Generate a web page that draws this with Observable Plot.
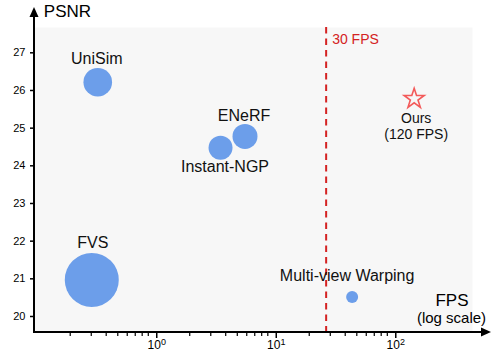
<!DOCTYPE html>
<html>
<head>
<meta charset="utf-8">
<script src="https://cdn.jsdelivr.net/npm/d3@7"></script>
<script src="https://cdn.jsdelivr.net/npm/@observablehq/plot@0.6"></script>
<style>
  html, body { margin: 0; padding: 0; background: #fff; }
  #chart svg { display: block; }
</style>
</head>
<body>
<div id="chart"></div>
<script>
// ---- data ----
const methods = ["UniSim", "FVS", "Instant-NGP", "ENeRF", "Multi-view Warping"];
const fps     = [0.34, 0.303, 3.62, 5.8, 45.7];
const psnr    = [26.22, 20.97, 24.48, 24.78, 20.52];
const bubble  = [205, 730, 144, 156, 36];

const oursName = ["Ours", "(120 FPS)"];
const oursFps  = [151];
const oursPsnr = [25.78];

const fpsThreshold = [27.7];
const thresholdLabel = "30 FPS";

const yTicks = [20, 21, 22, 23, 24, 25, 26, 27];
const xMajorTicks = [1, 10, 100];
const xMajorBase = "10";
const xMajorExponents = ["0", "1", "2"];
const xMinorTicks = [0.2, 0.3, 0.4, 0.5, 0.6, 0.7, 0.8, 0.9,
                     2, 3, 4, 5, 6, 7, 8, 9,
                     20, 30, 40, 50, 60, 70, 80, 90];

const rows = methods.map((m, i) => ({name: m, fps: fps[i], psnr: psnr[i], size: bubble[i]}));
const ours = oursFps.map((f, i) => ({fps: f, psnr: oursPsnr[i], text: oursName.join("\n")}));

const FONT = "'Liberation Sans', Arial, Helvetica, sans-serif";
const BLUE = "#6c9eea";
const RED = "#d42222";

function label(name, dx, dy) {
  return Plot.text(rows.filter(d => d.name === name), {
    x: "fps", y: "psnr", text: "name", dx, dy,
    fontSize: 16, fill: "#111", lineAnchor: "middle", textAnchor: "middle"
  });
}

// axis lines with filled arrow heads, drawn from the frame dimensions
function axisArrows(index, scales, values, dim) {
  const g = d3.create("svg:g");
  const x0 = dim.marginLeft, y0 = dim.height - dim.marginBottom;
  const xEnd = dim.width - 1, yEnd = 7;
  g.append("line").attr("x1", x0).attr("x2", xEnd - 8).attr("y1", y0).attr("y2", y0)
    .attr("stroke", "#000").attr("stroke-width", 2);
  g.append("line").attr("x1", x0).attr("x2", x0).attr("y1", y0 + 1).attr("y2", yEnd + 8)
    .attr("stroke", "#000").attr("stroke-width", 2);
  g.append("path").attr("d", `M${xEnd},${y0}L${xEnd - 10},${y0 - 4.5}L${xEnd - 10},${y0 + 4.5}Z`).attr("fill", "#000");
  g.append("path").attr("d", `M${x0},${yEnd}L${x0 - 4.5},${yEnd + 10}L${x0 + 4.5},${yEnd + 10}Z`).attr("fill", "#000");
  return g.node();
}

const chart = Plot.plot({
  width: 492,
  height: 356,
  marginLeft: 34,
  marginRight: 20,
  marginTop: 27,
  marginBottom: 24,
  style: {fontFamily: FONT, fontSize: "11px", background: "#fff", color: "#000"},
  x: {type: "log", domain: [0.1005, 464.6]},
  y: {domain: [19.575, 27.672]},
  r: {type: "sqrt", domain: [0, 730], range: [0, 27]},
  marks: [
    Plot.frame({fill: "#f7f7f7", stroke: null}),
    Plot.ruleX(fpsThreshold, {stroke: RED, strokeWidth: 2, strokeDasharray: "6.5,5"}),
    Plot.text(fpsThreshold, {x: d => d, frameAnchor: "top", text: () => thresholdLabel,
      textAnchor: "start", lineAnchor: "middle", dx: 6, dy: 12, fill: RED, fontSize: 14}),
    Plot.dot(rows, {x: "fps", y: "psnr", r: "size", fill: BLUE, stroke: null}),
    Plot.dot(ours, {x: "fps", y: "psnr", symbol: "star", r: 6.3, fill: "none", stroke: "#f35a5a", strokeWidth: 1.6}),
    Plot.text(ours, {x: "fps", y: "psnr", text: "text", dx: 2, dy: 12, lineAnchor: "top",
      lineHeight: 1.2, fontSize: 14, fill: "#111"}),
    label("UniSim", -1, -23.4),
    label("ENeRF", -1, -21),
    label("Instant-NGP", 4.5, 19.4),
    label("FVS", 1, -37),
    label("Multi-view Warping", -5, -21.5),
    Plot.axisY({ticks: yTicks, tickSize: 4, tickPadding: 5, fontSize: 11, label: null, strokeWidth: 1.5}),
    Plot.axisX({ticks: xMinorTicks, tickSize: 4, tickFormat: () => "", label: null, strokeWidth: 1.2}),
    Plot.axisX({ticks: xMajorTicks, tickSize: 6, tickPadding: 2, fontSize: 12, dx: 3,
      tickFormat: d => xMajorBase + "^" + xMajorExponents[xMajorTicks.indexOf(d)], label: null, strokeWidth: 1.5}),
    axisArrows,
    Plot.text(["PSNR"], {frameAnchor: "top-left", text: d => d, dx: 9.3, dy: -16,
      textAnchor: "start", lineAnchor: "middle", fontSize: 17, fill: "#000"}),
    Plot.text(["FPS"], {frameAnchor: "bottom-right", text: d => d, dx: -20.5, dy: -31.5,
      textAnchor: "middle", lineAnchor: "middle", fontSize: 17, fill: "#000"}),
    Plot.text(["(log scale)"], {frameAnchor: "bottom-right", text: d => d, dx: -21, dy: -14,
      textAnchor: "middle", lineAnchor: "middle", fontSize: 15, fill: "#000"})
  ]
});

// turn "10^k" tick labels into a base with a real superscript
d3.select(chart).selectAll("text").each(function () {
  const t = this.textContent;
  if (/^10\^\d$/.test(t)) {
    const [base, exp] = t.split("^");
    const sel = d3.select(this);
    sel.text(null);
    sel.append("tspan").text(base);
    sel.append("tspan").attr("dy", "-0.45em").attr("font-size", "9px").text(exp);
  }
});

document.getElementById("chart").appendChild(chart);
</script>
</body>
</html>
